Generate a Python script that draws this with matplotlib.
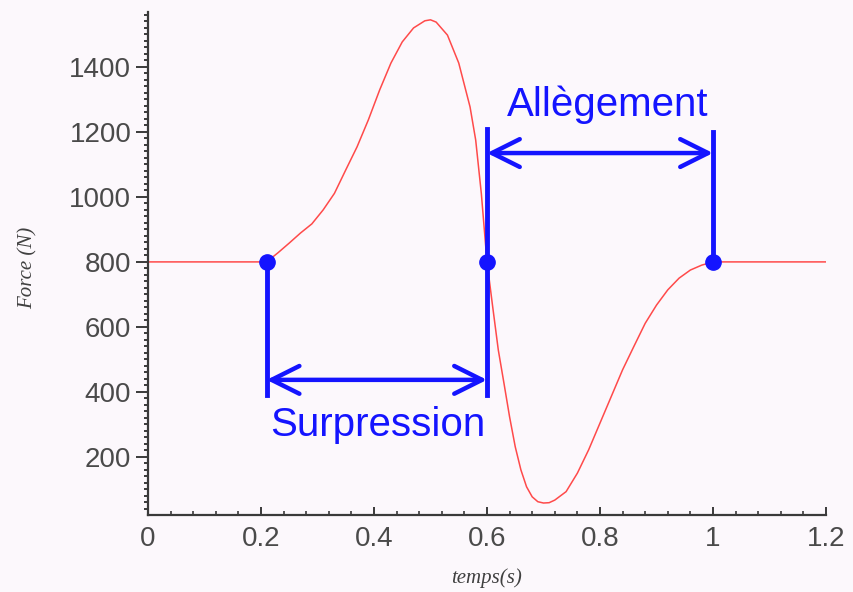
import matplotlib
matplotlib.use("Agg")
import matplotlib.pyplot as plt
from matplotlib.ticker import MultipleLocator

# ---- data ----
time_s = [0.0, 0.21, 0.23, 0.25, 0.27, 0.29, 0.31, 0.33, 0.35, 0.37, 0.39,
          0.41, 0.43, 0.45, 0.47, 0.49, 0.50, 0.51, 0.53, 0.55, 0.57,
          0.58, 0.59, 0.60, 0.61, 0.62, 0.63, 0.64, 0.65, 0.66, 0.67,
          0.68, 0.69, 0.70, 0.71, 0.72, 0.74, 0.76, 0.78, 0.80, 0.82,
          0.84, 0.86, 0.88, 0.90, 0.92, 0.94, 0.96, 0.98, 1.0, 1.2]
force_N = [800, 800, 828, 858, 889, 917, 960, 1011, 1083, 1154, 1237,
           1329, 1412, 1477, 1520, 1542, 1545, 1538, 1498, 1412, 1277,
           1175, 1010, 800, 663, 529, 427, 323, 231, 160, 108,
           77, 62, 58, 59, 67, 93, 150, 222, 304, 386,
           468, 540, 611, 667, 714, 750, 775, 790, 800, 800]

phase_points_t = [0.21, 0.6, 1.0]
phase_level = 800
surpression = {"label": "Surpression", "t0": 0.21, "t1": 0.6, "arrow_y": 437,
               "line_low": 390, "text_t": 0.407, "text_y": 298}
allegement = {"label": "Allègement", "t0": 0.6, "t1": 1.0, "arrow_y": 1135,
              "line_top0": 1210, "line_top1": 1200, "text_t": 0.814, "text_y": 1283}

xticks = [0, 0.2, 0.4, 0.6, 0.8, 1, 1.2]
xticklabels = ["0", "0.2", "0.4", "0.6", "0.8", "1", "1.2"]
yticks = [200, 400, 600, 800, 1000, 1200, 1400]

BG = "#fcf8fc"
BLUE = "#1414ff"
RED = "#ff4a4a"
AXC = "#3a3a3a"

fig = plt.figure(figsize=(8.54, 5.92), dpi=100, facecolor=BG)
ax = fig.add_axes([0.1733, 0.130, 0.7939, 0.8497])
ax.set_facecolor(BG)

ax.plot(time_s, force_N, color=RED, lw=1.1, zorder=2)

# vertical markers
ax.plot([surpression["t0"]] * 2, [phase_level, surpression["line_low"]], color=BLUE, lw=3.5, zorder=3)
ax.plot([0.6] * 2, [allegement["line_top0"], surpression["line_low"]], color=BLUE, lw=3.5, zorder=3)
ax.plot([allegement["t1"]] * 2, [allegement["line_top1"], phase_level], color=BLUE, lw=3.5, zorder=3)
ax.plot(phase_points_t, [phase_level] * 3, "o", color=BLUE, ms=11, zorder=4)

for d in (surpression, allegement):
    ax.annotate("", xy=(d["t1"], d["arrow_y"]), xytext=(d["t0"], d["arrow_y"]),
                arrowprops=dict(arrowstyle="<->,head_length=1.0,head_width=0.5",
                                color=BLUE, lw=3.2, shrinkA=0, shrinkB=0,
                                mutation_scale=20), zorder=3)
    ax.text(d["text_t"], d["text_y"], d["label"], color=BLUE, fontsize=29,
            family="Liberation Sans", ha="center", va="center", zorder=5)

ax.set_xlim(0, 1.2)
ax.set_ylim(21, 1569)

for s in ("top", "right"):
    ax.spines[s].set_visible(False)
for s in ("left", "bottom"):
    ax.spines[s].set_color(AXC)
    ax.spines[s].set_linewidth(1.6)

ax.set_xticks(xticks)
ax.set_xticklabels(xticklabels)
ax.set_yticks(yticks)
ax.xaxis.set_minor_locator(MultipleLocator(0.04))
ax.yaxis.set_minor_locator(MultipleLocator(20))

ax.tick_params(axis="x", which="major", direction="in", length=6, width=1.4, color=AXC, pad=8)
ax.tick_params(axis="x", which="minor", direction="in", length=3, width=1.2, color=AXC)
ax.tick_params(axis="y", which="major", direction="out", length=9, width=1.4, color=AXC, pad=3)
ax.tick_params(axis="y", which="minor", direction="out", length=3, width=1.4, color=AXC)
for lab in ax.get_xticklabels() + ax.get_yticklabels():
    lab.set_family("Liberation Sans")
    lab.set_fontsize(20)
    lab.set_color("#4a4a4a")

fig.text(28 / 854, 1 - 268 / 592, "Force (N)", rotation=90, ha="center", va="center",
         family="Liberation Serif", style="italic", fontsize=15, color="#404040")
fig.text(487 / 854, 1 - 578 / 592, "temps(s)", ha="center", va="center",
         family="Liberation Serif", style="italic", fontsize=15, color="#404040")

fig.savefig("out.png", dpi=100, facecolor=BG)
